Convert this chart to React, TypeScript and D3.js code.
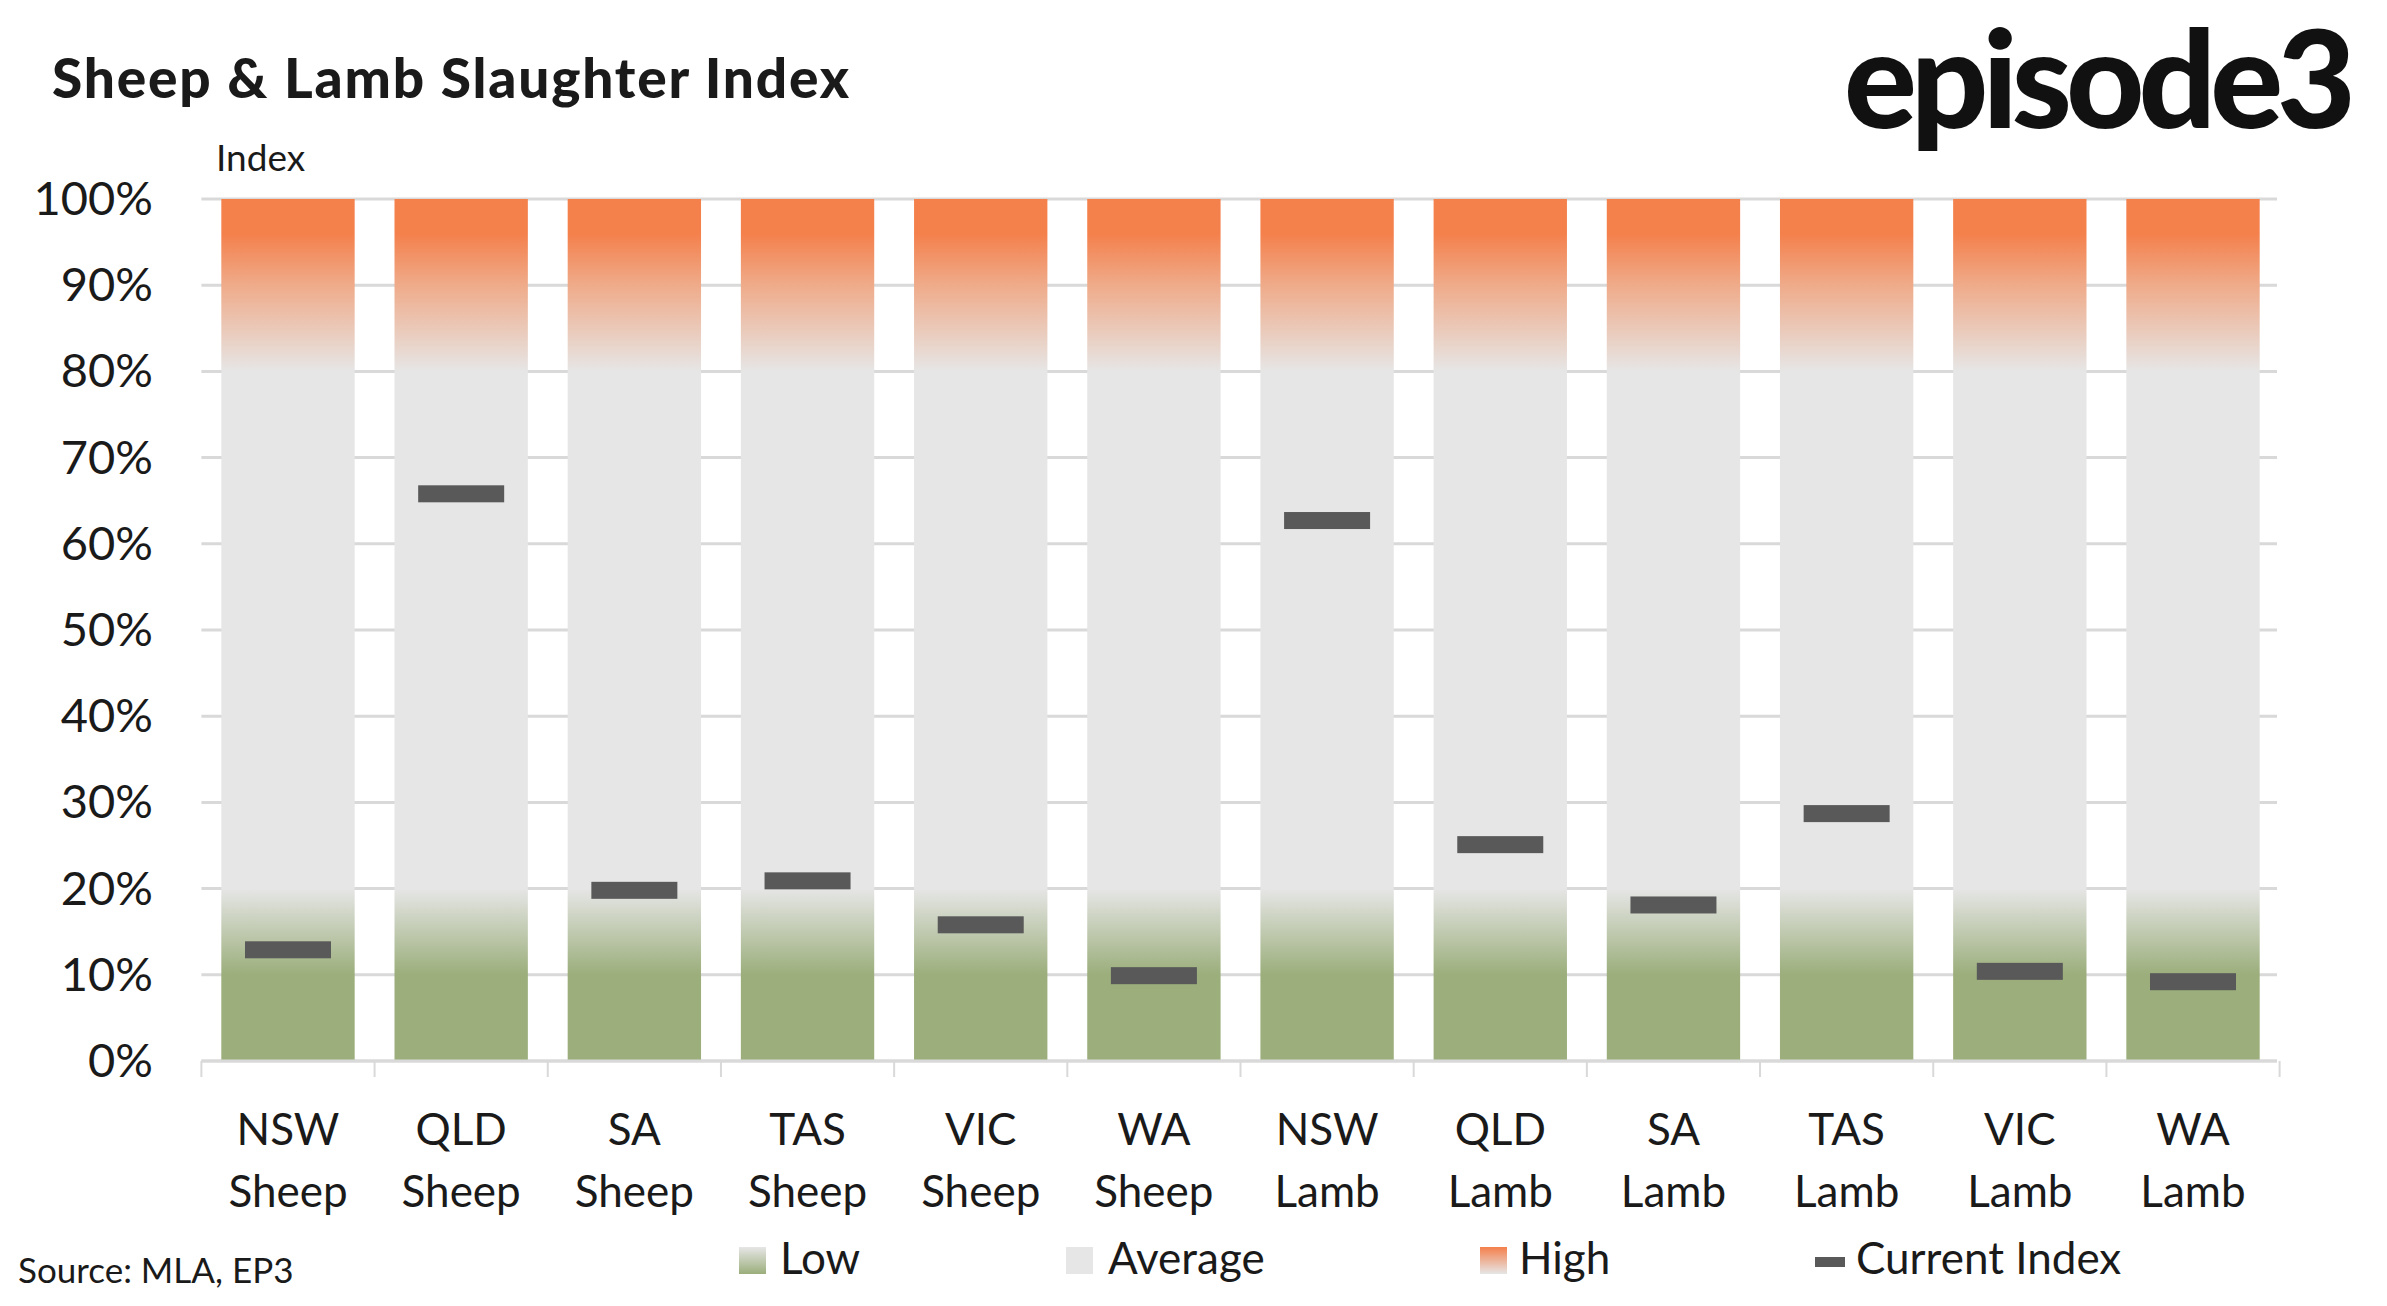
import * as d3 from "d3";

const categories = [
  ["NSW", "Sheep"], ["QLD", "Sheep"], ["SA", "Sheep"], ["TAS", "Sheep"], ["VIC", "Sheep"], ["WA", "Sheep"],
  ["NSW", "Lamb"], ["QLD", "Lamb"], ["SA", "Lamb"], ["TAS", "Lamb"], ["VIC", "Lamb"], ["WA", "Lamb"],
];
const currentIndex = [12.9, 65.8, 19.8, 20.9, 15.8, 9.9, 62.7, 25.1, 18.1, 28.7, 10.4, 9.2];
const yTicks = [0, 10, 20, 30, 40, 50, 60, 70, 80, 90, 100];

const W = 2387;
const H = 1306;
const margin = { left: 204, right: 110, top: 199, bottom: 245 };
const font = "Lato, 'Open Sans', sans-serif";

export default function App() {
  const keys = categories.map((c) => c.join(" "));
  const x = d3.scaleBand().domain(keys).range([margin.left, W - margin.right]).paddingInner(0.23).paddingOuter(0.1);
  const y = d3.scaleLinear().domain([0, 100]).range([H - margin.bottom, margin.top]);
  const step = x.step();
  const x0 = x(keys[0])! - step * x.paddingInner() / 2;
  const grad = [
    { o: y(0), c: "#9bae7b" },
    { o: y(10), c: "#9bae7b" },
    { o: y(20), c: "#e6e6e6" },
    { o: y(80), c: "#e6e6e6" },
    { o: y(90), c: "#efab8a" },
    { o: y(96), c: "#f4804c" },
    { o: y(100), c: "#f4804c" },
  ];
  const legendY = 1265;
  return (
    <svg width={W} height={H} style={{ display: "block", margin: -8 }} fontFamily={font}>
      <defs>
        <linearGradient id="bg" gradientUnits="userSpaceOnUse" x1={0} x2={0} y1={y(0)} y2={y(100)}>
          {grad.map((g, i) => (
            <stop key={i} offset={(y(0) - g.o) / (y(0) - y(100))} stopColor={g.c} />
          ))}
        </linearGradient>
        <linearGradient id="lowS" x1={0} x2={0} y1={1} y2={0}>
          <stop offset={0} stopColor="#9bae7b" />
          <stop offset={1} stopColor="#e6e6e6" />
        </linearGradient>
        <linearGradient id="highS" x1={0} x2={0} y1={1} y2={0}>
          <stop offset={0} stopColor="#e6e6e6" />
          <stop offset={1} stopColor="#f4804c" />
        </linearGradient>
      </defs>
      <rect width={W} height={H} fill="#fff" />
      <text x={52} y={98} fontSize={55} fontWeight={900} fill="#1a1a1a" letterSpacing={1.8}>Sheep &amp; Lamb Slaughter Index</text>
      <text x={2350} y={128} fontSize={136} fontWeight={900} fill="#111" textAnchor="end" letterSpacing={-6}>episode3</text>
      <text x={216} y={171} fontSize={37} fill="#1a1a1a">Index</text>
      {yTicks.map((t) => (
        <g key={t}>
          <line x1={x0} x2={W - margin.right} y1={y(t)} y2={y(t)} stroke="#d9d9d9" strokeWidth={3} />
          <text x={153} y={y(t) + 16} fontSize={47} textAnchor="end" fill="#1a1a1a">{t}%</text>
        </g>
      ))}
      {keys.map((k) => (
        <rect key={k} x={x(k)} y={y(100)} width={x.bandwidth()} height={y(0) - y(100)} fill="url(#bg)" />
      ))}
      <line x1={x0} x2={W - margin.right} y1={y(0)} y2={y(0)} stroke="#d9d9d9" strokeWidth={3} />
      {d3.range(keys.length + 1).map((i) => (
        <line key={i} x1={x0 + i * step} x2={x0 + i * step} y1={y(0)} y2={y(0) + 16} stroke="#d9d9d9" strokeWidth={2} />
      ))}
      {keys.map((k, i) => {
        const cx = x(k)! + x.bandwidth() / 2;
        return (
          <g key={k}>
            <rect x={cx - 43} y={y(currentIndex[i]) - 8.5} width={86} height={17} fill="#595959" />
            <text x={cx} y={1145} fontSize={44} textAnchor="middle" fill="#1a1a1a">{categories[i][0]}</text>
            <text x={cx} y={1207} fontSize={44} textAnchor="middle" fill="#1a1a1a">{categories[i][1]}</text>
          </g>
        );
      })}
      <text x={18} y={1283} fontSize={35} fill="#1a1a1a">Source: MLA, EP3</text>
      <rect x={739} y={legendY - 18} width={27} height={27} fill="url(#lowS)" />
      <text x={780} y={legendY + 9} fontSize={44} fill="#1a1a1a">Low</text>
      <rect x={1066} y={legendY - 18} width={27} height={27} fill="#e6e6e6" />
      <text x={1108} y={legendY + 9} fontSize={44} fill="#1a1a1a">Average</text>
      <rect x={1480} y={legendY - 18} width={27} height={27} fill="url(#highS)" />
      <text x={1519} y={legendY + 9} fontSize={44} fill="#1a1a1a">High</text>
      <rect x={1815} y={legendY - 8} width={30} height={10} fill="#595959" />
      <text x={1856} y={legendY + 9} fontSize={44} fill="#1a1a1a">Current Index</text>
    </svg>
  );
}
